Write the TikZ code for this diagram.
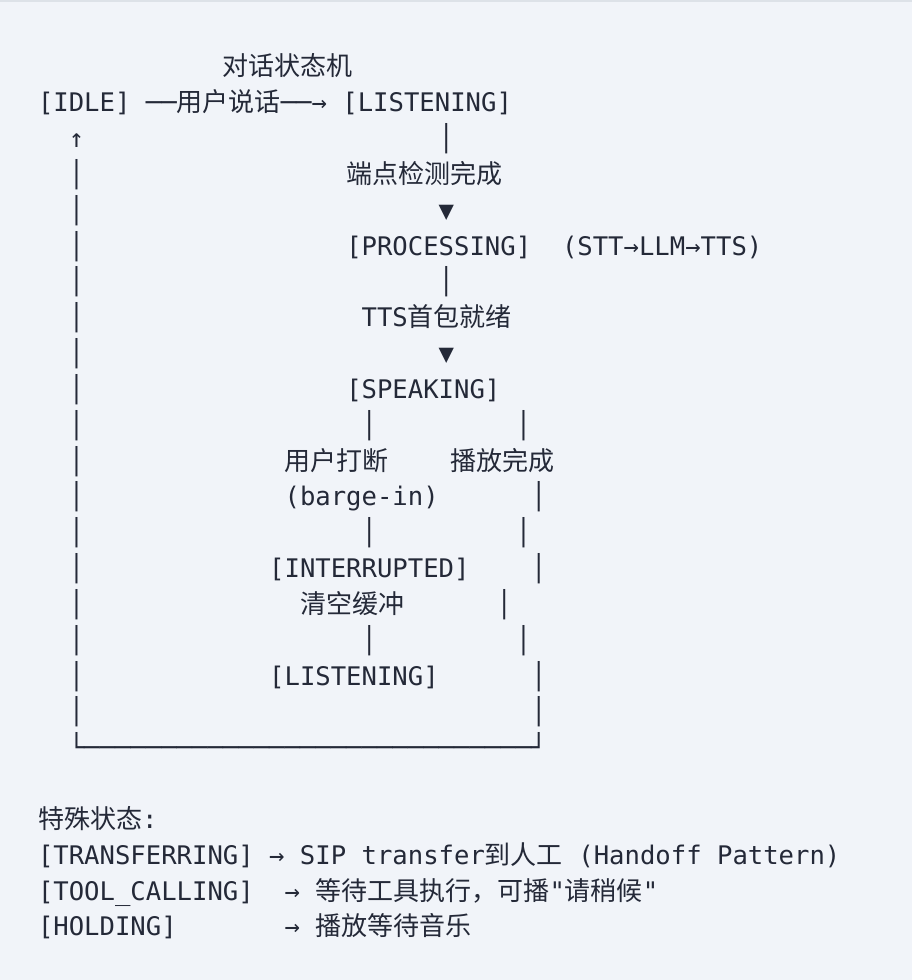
\documentclass[tikz,border=0pt]{standalone}
\usepackage{fontspec}
\setmonofont{DejaVu Sans Mono}
\newfontfamily\cjkfont[Scale=1.016]{Noto Sans CJK SC}
\newcommand\zh[1]{{\cjkfont #1}}
\definecolor{bgcol}{HTML}{F1F4F9}
\definecolor{edgecol}{HTML}{DDE2E8}
\definecolor{inkcol}{HTML}{242938}
\begin{document}
\begin{tikzpicture}[x=1pt,y=-1pt,
  row/.style={anchor=base west,inner sep=0pt,outer sep=0pt,text=inkcol,
    font=\ttfamily\fontsize{25.6}{30}\selectfont}]
\fill[bgcol] (0,0) rectangle (912,980);
\useasboundingbox (0,0) rectangle (912,980);
\draw[edgecol,line width=1.5pt] (0,0.75) -- (912,0.75);
\def\x{38}
\def\y#1{\fpeval{75.9+35.83*#1}}
\node[row] (r0)  at (\x,\y{0})  {~~~~~~~~~~~~\zh{对话状态机}};
\node[row] (r1)  at (\x,\y{1})  {[IDLE]~──\zh{用户说话}──→~[LISTENING]};
\node[row] (r2)  at (\x,\y{2})  {~~↑~~~~~~~~~~~~~~~~~~~~~~~│};
\node[row] (r3)  at (\x,\y{3})  {~~│~~~~~~~~~~~~~~~~~\zh{端点检测完成}};
\node[row] (r4)  at (\x,\y{4})  {~~│~~~~~~~~~~~~~~~~~~~~~~~▼};
\node[row] (r5)  at (\x,\y{5})  {~~│~~~~~~~~~~~~~~~~~[PROCESSING]~~(STT→LLM→TTS)};
\node[row] (r6)  at (\x,\y{6})  {~~│~~~~~~~~~~~~~~~~~~~~~~~│};
\node[row] (r7)  at (\x,\y{7})  {~~│~~~~~~~~~~~~~~~~~~TTS\zh{首包就绪}};
\node[row] (r8)  at (\x,\y{8})  {~~│~~~~~~~~~~~~~~~~~~~~~~~▼};
\node[row] (r9)  at (\x,\y{9})  {~~│~~~~~~~~~~~~~~~~~[SPEAKING]};
\node[row] (r10) at (\x,\y{10}) {~~│~~~~~~~~~~~~~~~~~~│~~~~~~~~~│};
\node[row] (r11) at (\x,\y{11}) {~~│~~~~~~~~~~~~~\zh{用户打断}~~~~\zh{播放完成}};
\node[row] (r12) at (\x,\y{12}) {~~│~~~~~~~~~~~~~(barge-in)~~~~~~│};
\node[row] (r13) at (\x,\y{13}) {~~│~~~~~~~~~~~~~~~~~~│~~~~~~~~~│};
\node[row] (r14) at (\x,\y{14}) {~~│~~~~~~~~~~~~[INTERRUPTED]~~~~│};
\node[row] (r15) at (\x,\y{15}) {~~│~~~~~~~~~~~~~~\zh{清空缓冲}~~~~~~│};
\node[row] (r16) at (\x,\y{16}) {~~│~~~~~~~~~~~~~~~~~~│~~~~~~~~~│};
\node[row] (r17) at (\x,\y{17}) {~~│~~~~~~~~~~~~[LISTENING]~~~~~~│};
\node[row] (r18) at (\x,\y{18}) {~~│~~~~~~~~~~~~~~~~~~~~~~~~~~~~~│};
\node[row] (r19) at (\x,\y{19}) {~~└─────────────────────────────┘};
\node[row] (r21) at (\x,\y{21}) {\zh{特殊状态}:};
\node[row] (r22) at (\x,\y{22}) {[TRANSFERRING]~→~SIP~transfer\zh{到人工}~(Handoff~Pattern)};
\node[row] (r23) at (\x,\y{23}) {[TOOL\_CALLING]~~→~\zh{等待工具执行，可播}"\zh{请稍候}"};
\node[row] (r24) at (\x,\y{24}) {[HOLDING]~~~~~~~→~\zh{播放等待音乐}};
\end{tikzpicture}
\end{document}
